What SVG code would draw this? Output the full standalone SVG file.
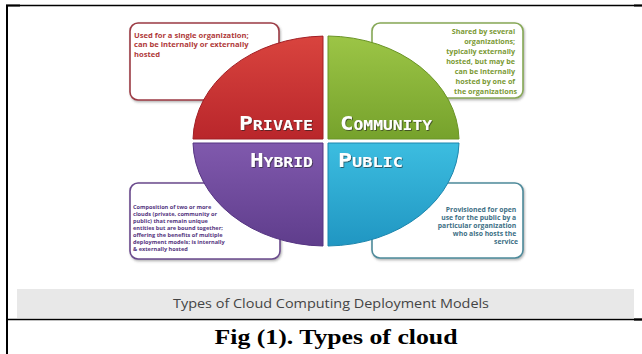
<svg xmlns="http://www.w3.org/2000/svg" width="642" height="354" viewBox="0 0 642 354">
  <style>
    .frame { stroke: #000; fill: none; }
    .box { fill: #fff; stroke-width: 1.6; filter: url(#boxShadow); }
    .note { font-family: "Open Sans", "Liberation Sans", sans-serif; font-weight: bold; }
    .label { font-family: "DejaVu Sans Mono", "Liberation Mono", monospace; font-weight: bold; fill: #fff; filter: url(#textShadow); }
    .big { font-size: 20px; }
    .small { font-size: 14.5px; }
  </style>
  <defs>
    <filter id="boxShadow" x="-10%" y="-10%" width="125%" height="130%">
      <feDropShadow dx="1" dy="1.5" stdDeviation="1.2" flood-color="#555" flood-opacity="0.45"/>
    </filter>
    <filter id="textShadow" x="-10%" y="-30%" width="120%" height="160%">
      <feDropShadow dx="0.8" dy="0.8" stdDeviation="0.7" flood-color="#222" flood-opacity="0.75"/>
    </filter>
    <linearGradient id="gRed" x1="0" y1="0" x2="0" y2="1">
      <stop offset="0" stop-color="#d9443e"/>
      <stop offset="1" stop-color="#b9262b"/>
    </linearGradient>
    <linearGradient id="gGreen" x1="0" y1="0" x2="0" y2="1">
      <stop offset="0" stop-color="#9cc546"/>
      <stop offset="1" stop-color="#76a22c"/>
    </linearGradient>
    <linearGradient id="gPurple" x1="0" y1="0" x2="0" y2="1">
      <stop offset="0" stop-color="#8059ad"/>
      <stop offset="1" stop-color="#5f3d8c"/>
    </linearGradient>
    <linearGradient id="gTeal" x1="0" y1="0" x2="0" y2="1">
      <stop offset="0" stop-color="#3cbde0"/>
      <stop offset="1" stop-color="#2096c2"/>
    </linearGradient>
  </defs>

  <rect width="642" height="354" fill="#fff"/>

  <!-- table frame -->
  <g id="frame">
    <line class="frame" x1="6" y1="5.5" x2="642" y2="5.5" stroke-width="1.3"/>
    <line class="frame" x1="6" y1="5.5" x2="20" y2="5.5" stroke-width="2"/>
    <line class="frame" x1="634" y1="5.5" x2="642" y2="5.5" stroke-width="2"/>
    <line class="frame" x1="7" y1="5" x2="7" y2="354" stroke-width="2"/>
    <line class="frame" x1="6" y1="319.5" x2="642" y2="319.5" stroke-width="1.5"/>
    <line class="frame" x1="634" y1="319.5" x2="642" y2="319.5" stroke-width="2.2"/>
  </g>

  <!-- descriptive call-out boxes -->
  <g id="note-private">
    <rect class="box" x="130" y="23" width="149" height="77" rx="8" stroke="#9c3b44"/>
    <text class="note" font-size="7.6" fill="#b03a3a">
      <tspan x="134" y="37.5">Used for a single organization;</tspan>
      <tspan x="134" y="47">can be internally or externally</tspan>
      <tspan x="134" y="56.5">hosted</tspan>
    </text>
  </g>

  <g id="note-community">
    <rect class="box" x="372" y="23" width="151" height="75" rx="8" stroke="#86a856"/>
    <text class="note" font-size="7.2" fill="#7b9a35" text-anchor="end">
      <tspan x="517" y="33.5">Shared by several</tspan>
      <tspan x="517" y="43.5">organizations;</tspan>
      <tspan x="517" y="53.5">typically externally</tspan>
      <tspan x="517" y="63.5">hosted, but may be</tspan>
      <tspan x="517" y="73.5">can be internally</tspan>
      <tspan x="517" y="83.5">hosted by one of</tspan>
      <tspan x="517" y="93.5">the organizations</tspan>
    </text>
  </g>

  <g id="note-hybrid">
    <rect class="box" x="130" y="183" width="150" height="76" rx="8" stroke="#6a4a8c"/>
    <text class="note" font-size="5.6" fill="#553680">
      <tspan x="133" y="208.5">Composition of two or more</tspan>
      <tspan x="133" y="215.5">clouds (private, community or</tspan>
      <tspan x="133" y="222.5">public) that remain unique</tspan>
      <tspan x="133" y="229.5">entities but are bound together;</tspan>
      <tspan x="133" y="236.5">offering the benefits of multiple</tspan>
      <tspan x="133" y="243.5">deployment models; is internally</tspan>
      <tspan x="133" y="250.5">&amp; externally hosted</tspan>
    </text>
  </g>

  <g id="note-public">
    <rect class="box" x="372" y="183" width="151" height="75" rx="8" stroke="#4e8a9a"/>
    <text class="note" font-size="6.8" fill="#3d6f85" text-anchor="end">
      <tspan x="518" y="211.5">Provisioned for open</tspan>
      <tspan x="518" y="219.5">use for the public by a</tspan>
      <tspan x="518" y="227.5">particular  organization</tspan>
      <tspan x="518" y="235.5">who also hosts the</tspan>
      <tspan x="518" y="243.5">service</tspan>
    </text>
  </g>

  <!-- four quadrants of the deployment ellipse -->
  <g id="private">
    <path d="M323,139 L323,36.1 A133,105 0 0 0 193,139 Z" fill="url(#gRed)" stroke="#a11f25" stroke-width="1"/>
    <text class="label" x="313" y="129.5" text-anchor="end" textLength="74" lengthAdjust="spacingAndGlyphs"><tspan class="big">P</tspan><tspan class="small">RIVATE</tspan></text>
  </g>
  <g id="community">
    <path d="M328,139 L328,36 A133,105 0 0 1 459,139 Z" fill="url(#gGreen)" stroke="#6a9426" stroke-width="1"/>
    <text class="label" x="340" y="129.5" textLength="92" lengthAdjust="spacingAndGlyphs"><tspan class="big">C</tspan><tspan class="small">OMMUNITY</tspan></text>
  </g>
  <g id="hybrid">
    <path d="M323,143 L193,143 A133,105 0 0 0 323,246 Z" fill="url(#gPurple)" stroke="#553482" stroke-width="1"/>
    <text class="label" x="313" y="166.5" text-anchor="end" textLength="63" lengthAdjust="spacingAndGlyphs"><tspan class="big">H</tspan><tspan class="small">YBRID</tspan></text>
  </g>
  <g id="public">
    <path d="M328,143 L328,246 A133,105 0 0 0 459,143 Z" fill="url(#gTeal)" stroke="#1c86ad" stroke-width="1"/>
    <text class="label" x="338" y="166.5" textLength="65" lengthAdjust="spacingAndGlyphs"><tspan class="big">P</tspan><tspan class="small">UBLIC</tspan></text>
  </g>

  <!-- title band and figure caption -->
  <g id="title-band">
    <rect x="17" y="289" width="617" height="29" fill="#e8e8e8"/>
    <text x="331" y="308" font-family="Open Sans, Liberation Sans, sans-serif" font-size="12.5" fill="#444" text-anchor="middle" textLength="316" lengthAdjust="spacingAndGlyphs">Types of Cloud Computing Deployment Models</text>
  </g>
  <g id="caption">
    <text x="336" y="344" font-family="Liberation Serif, Times New Roman, serif" font-weight="bold" font-size="21" fill="#000" text-anchor="middle" textLength="243" lengthAdjust="spacingAndGlyphs">Fig (1). Types of cloud</text>
  </g>
</svg>
